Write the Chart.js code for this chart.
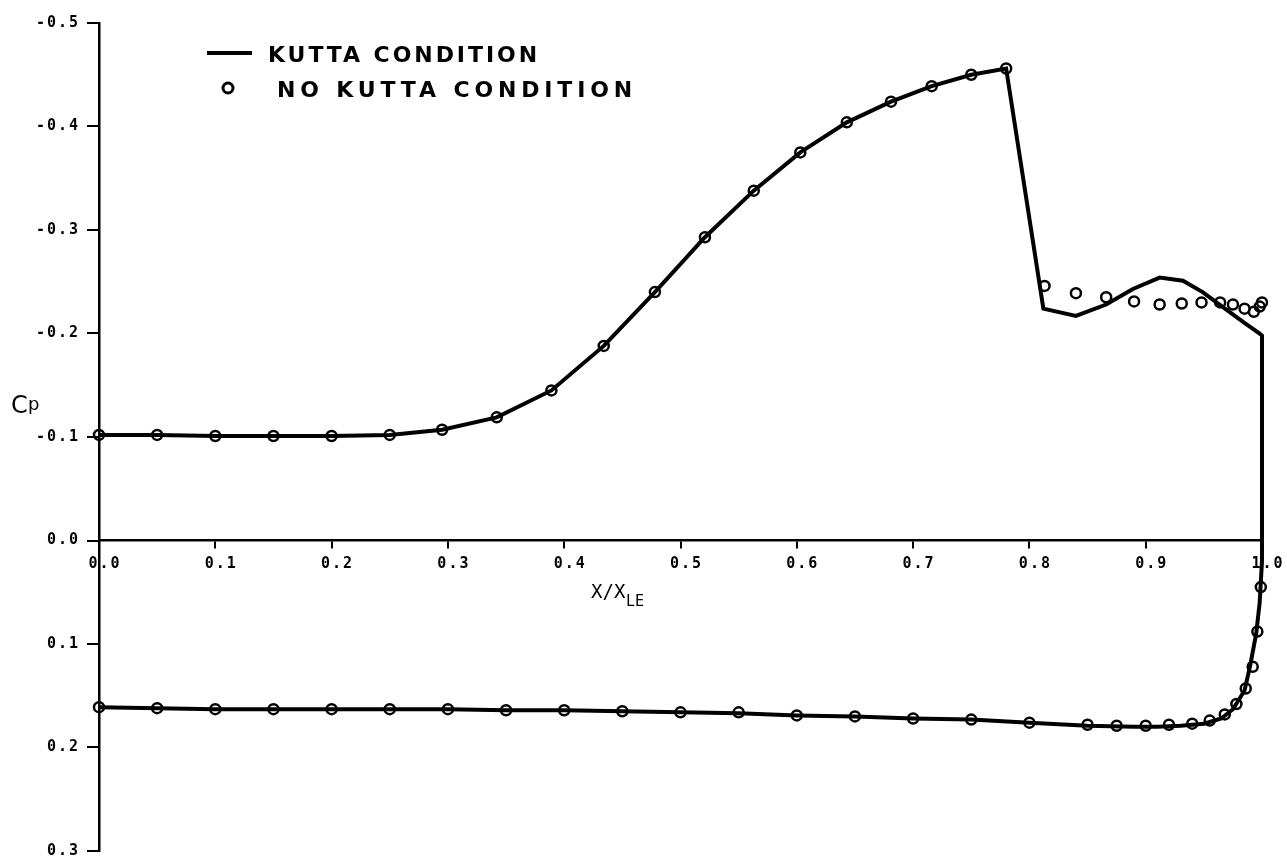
<!DOCTYPE html>
<html>
<head>
<meta charset="utf-8">
<script src="https://cdn.jsdelivr.net/npm/chart.js@4"></script>
<style>
  html, body { margin: 0; padding: 0; background: #fff; }
  #wrap { width: 1287px; height: 862px; }
</style>
</head>
<body>
<div id="wrap"><canvas id="cpChart" width="1287" height="862"></canvas></div>
<script>
// upper surface up to the shock (both solutions lie on top of each other)
const upperX  = [0, 0.05, 0.1, 0.15, 0.2, 0.25, 0.295, 0.342, 0.389, 0.434, 0.478, 0.521, 0.563, 0.603, 0.643, 0.681, 0.716, 0.75, 0.78];
const upperCp = [-0.102, -0.102, -0.101, -0.101, -0.101, -0.102, -0.107, -0.119, -0.145, -0.188, -0.240, -0.293, -0.338, -0.375, -0.404, -0.424, -0.439, -0.450, -0.456];

// Kutta condition: upper surface behind the shock
const kuttaAftX  = [0.812, 0.840, 0.866, 0.889, 0.912, 0.932, 0.949, 0.967, 0.984, 0.998, 1.0];
const kuttaAftCp = [-0.224, -0.217, -0.228, -0.243, -0.254, -0.251, -0.240, -0.225, -0.211, -0.200, -0.198];

// Kutta condition: lower surface, trailing edge back to leading edge
const kuttaLowerX  = [1.0, 0.998, 0.995, 0.99, 0.985, 0.975, 0.965, 0.95, 0.93, 0.91, 0.89, 0.85, 0.8, 0.75, 0.7, 0.65, 0.6, 0.55, 0.5, 0.45, 0.4, 0.35, 0.3, 0.25, 0.2, 0.15, 0.1, 0.05, 0];
const kuttaLowerCp = [0.02, 0.06, 0.09, 0.12, 0.145, 0.163, 0.172, 0.177, 0.179, 0.180, 0.180, 0.179, 0.176, 0.173, 0.172, 0.170, 0.169, 0.167, 0.166, 0.165, 0.164, 0.164, 0.163, 0.163, 0.163, 0.163, 0.163, 0.162, 0.161];

// no Kutta condition: circles behind the shock
const noKuttaAftX  = [0.813, 0.840, 0.866, 0.890, 0.912, 0.931, 0.948, 0.964, 0.975, 0.985, 0.993, 0.998, 1.0];
const noKuttaAftCp = [-0.246, -0.239, -0.235, -0.231, -0.228, -0.229, -0.230, -0.230, -0.228, -0.224, -0.221, -0.226, -0.230];

// no Kutta condition: circles on the lower surface
const noKuttaLowerX  = [0, 0.05, 0.1, 0.15, 0.2, 0.25, 0.3, 0.35, 0.4, 0.45, 0.5, 0.55, 0.6, 0.65, 0.7, 0.75, 0.8, 0.85, 0.875, 0.9, 0.92, 0.94, 0.955, 0.968, 0.978, 0.986, 0.992, 0.996, 0.999];
const noKuttaLowerCp = [0.161, 0.162, 0.163, 0.163, 0.163, 0.163, 0.163, 0.164, 0.164, 0.165, 0.166, 0.166, 0.169, 0.170, 0.172, 0.173, 0.176, 0.178, 0.179, 0.179, 0.178, 0.177, 0.174, 0.168, 0.158, 0.143, 0.122, 0.088, 0.045];

const legendLabels = ['KUTTA CONDITION', 'NO KUTTA CONDITION'];

const toPoints = (xs, ys) => xs.map((x, i) => ({ x: x, y: ys[i] }));
const fmt = v => (Math.abs(v) < 1e-9 ? '0.0' : v.toFixed(1));

const kuttaPts = toPoints(upperX.concat(kuttaAftX, kuttaLowerX), upperCp.concat(kuttaAftCp, kuttaLowerCp));
const noKuttaPts = toPoints(upperX.concat(noKuttaAftX, noKuttaLowerX), upperCp.concat(noKuttaAftCp, noKuttaLowerCp));

function spacedText(c, text, x, y, width) {
    c.letterSpacing = '0px';
    const w = c.measureText(text).width;
    c.letterSpacing = ((width - w) / text.length) + 'px';
    c.fillText(text, x, y);
    c.letterSpacing = '0px';
}

// axis titles and the hand lettered legend
const annotate = {
    id: 'annotate',
    beforeDraw(chart) {
        chart.ctx.letterSpacing = '2px';
    },
    afterDraw(chart) {
        const c = chart.ctx;
        c.save();
        c.letterSpacing = '0px';
        c.fillStyle = '#000';
        c.strokeStyle = '#000';
        c.textAlign = 'left';
        c.textBaseline = 'alphabetic';

        // C_p
        c.font = '24px "DejaVu Sans"';
        c.fillText('C', 11, 413);
        c.font = '18px "DejaVu Sans"';
        c.fillText('p', 28, 410);

        // X/X_LE
        c.font = '19px "DejaVu Sans Mono"';
        c.fillText('X/X', 591, 598);
        c.font = '15px "DejaVu Sans Mono"';
        c.fillText('LE', 626, 606);

        // legend
        c.lineWidth = 4;
        c.beginPath();
        c.moveTo(207, 53);
        c.lineTo(252, 53);
        c.stroke();
        c.lineWidth = 3;
        c.beginPath();
        c.arc(228, 88, 5, 0, Math.PI * 2);
        c.stroke();

        c.font = 'bold 22px "DejaVu Sans"';
        spacedText(c, legendLabels[0], 268, 62, 272);
        spacedText(c, legendLabels[1], 277, 97, 360);
        c.restore();
    }
};

const ctx = document.getElementById('cpChart').getContext('2d');
const cpChart = new Chart(ctx, {
    type: 'scatter',
    data: {
        datasets: [
            {
                label: legendLabels[0],
                data: kuttaPts,
                showLine: true,
                borderColor: '#000',
                borderWidth: 4,
                pointRadius: 0,
                tension: 0,
                clip: false
            },
            {
                label: legendLabels[1],
                data: noKuttaPts,
                showLine: false,
                pointStyle: 'circle',
                pointRadius: 5,
                pointBorderWidth: 2.5,
                borderColor: '#000',
                backgroundColor: 'rgba(0,0,0,0)',
                clip: false
            }
        ]
    },
    options: {
        responsive: false,
        animation: false,
        layout: { padding: { top: 23, right: 25, bottom: 11, left: 0 } },
        plugins: {
            legend: { display: false },
            tooltip: { enabled: false }
        },
        scales: {
            x: {
                type: 'linear',
                position: { y: 0 },
                min: 0,
                max: 1,
                ticks: {
                    stepSize: 0.1,
                    callback: fmt,
                    color: '#000',
                    font: { family: '"DejaVu Sans Mono"', size: 15, weight: 'bold' },
                    labelOffset: 6,
                    padding: 8,
                    maxRotation: 0,
                    autoSkip: false
                },
                grid: { drawOnChartArea: false, drawTicks: true, tickLength: 7, color: '#000', lineWidth: 2 },
                border: { display: true, color: '#000', width: 2.5 },
                afterFit: s => { s.paddingTop = 0; s.paddingBottom = 0; }
            },
            y: {
                type: 'linear',
                position: 'left',
                reverse: true,
                min: -0.5,
                max: 0.3,
                afterFit: s => { s.width = 99; s.paddingTop = 0; s.paddingBottom = 0; },
                ticks: {
                    stepSize: 0.1,
                    callback: fmt,
                    color: '#000',
                    font: { family: '"DejaVu Sans Mono"', size: 15, weight: 'bold' },
                    padding: 7
                },
                grid: { drawOnChartArea: false, drawTicks: true, tickLength: 12, color: '#000', lineWidth: 2 },
                border: { display: true, color: '#000', width: 2.5 }
            }
        }
    },
    plugins: [annotate]
});
</script>
</body>
</html>
